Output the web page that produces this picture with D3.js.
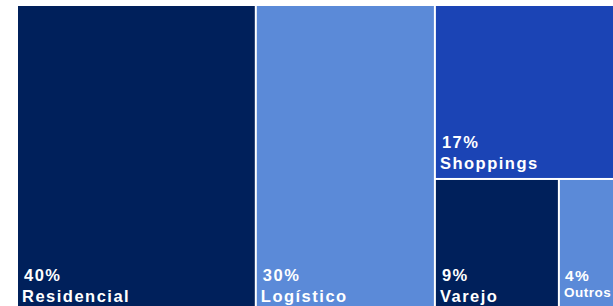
<!DOCTYPE html>
<html>
<head>
<meta charset="utf-8">
<script src="https://cdn.jsdelivr.net/npm/d3@7"></script>
<style>
  body { margin: 0; background: #fff; }
  svg { display: block; }
</style>
</head>
<body>
<svg id="chart"></svg>
<script>
var width = 613;
var height = 306;

var categories = ["Residencial", "Logístico", "Shoppings", "Varejo", "Outros"];
var shares = [40, 30, 17, 9, 4];
var labels = ["40%", "30%", "17%", "9%", "4%"];
var colors = ["#00205b", "#5b8ad8", "#1b44b5", "#00205b", "#5b8ad8"];

var svg = d3.select("#chart").attr("width", width).attr("height", height);

var leaf = function(i) {
  return {name: categories[i], value: shares[i], label: labels[i], color: colors[i]};
};

// Residencial | Logístico | (Shoppings over (Varejo | Outros))
var tree = {children: [leaf(0), leaf(1), {children: [leaf(2), {children: [leaf(3), leaf(4)]}]}]};

var root = d3.hierarchy(tree).sum(function(d) { return d.value || 0; });

d3.treemap()
  .tile(d3.treemapSliceDice)
  .size([595, 305])
  .paddingInner(2)(root);

var g = svg.append("g").attr("transform", "translate(18,6)");

var cell = g.selectAll("g")
  .data(root.leaves())
  .enter()
  .append("g")
  .attr("transform", function(d) { return `translate(${d.x0},${d.y0})`; });

cell.append("rect")
  .attr("width", function(d) { return d.x1 - d.x0; })
  .attr("height", function(d) { return d.y1 - d.y0; })
  .attr("fill", function(d) { return d.data.color; });

// narrow cells get a smaller label
var small = function(d) { return d.x1 - d.x0 < 80; };

cell.append("text")
  .attr("x", function(d) { return small(d) ? 5 : 6; })
  .attr("y", function(d) { return d.y1 - d.y0 - 30; })
  .attr("fill", "#fff")
  .attr("font-family", "Liberation Sans, Arial, sans-serif")
  .attr("font-weight", "bold")
  .attr("font-size", function(d) { return small(d) ? 15.5 : 16.5; })
  .attr("letter-spacing", 1.5)
  .text(function(d) { return d.data.label; });

cell.append("text")
  .attr("x", 4)
  .attr("y", function(d) { return d.y1 - d.y0 - (small(d) ? 14 : 9); })
  .attr("fill", "#fff")
  .attr("font-family", "Liberation Sans, Arial, sans-serif")
  .attr("font-weight", "bold")
  .attr("font-size", function(d) { return small(d) ? 13.5 : 16.5; })
  .attr("letter-spacing", function(d) { return small(d) ? 0.5 : 1.5; })
  .text(function(d) { return d.data.name; });
</script>
</body>
</html>
